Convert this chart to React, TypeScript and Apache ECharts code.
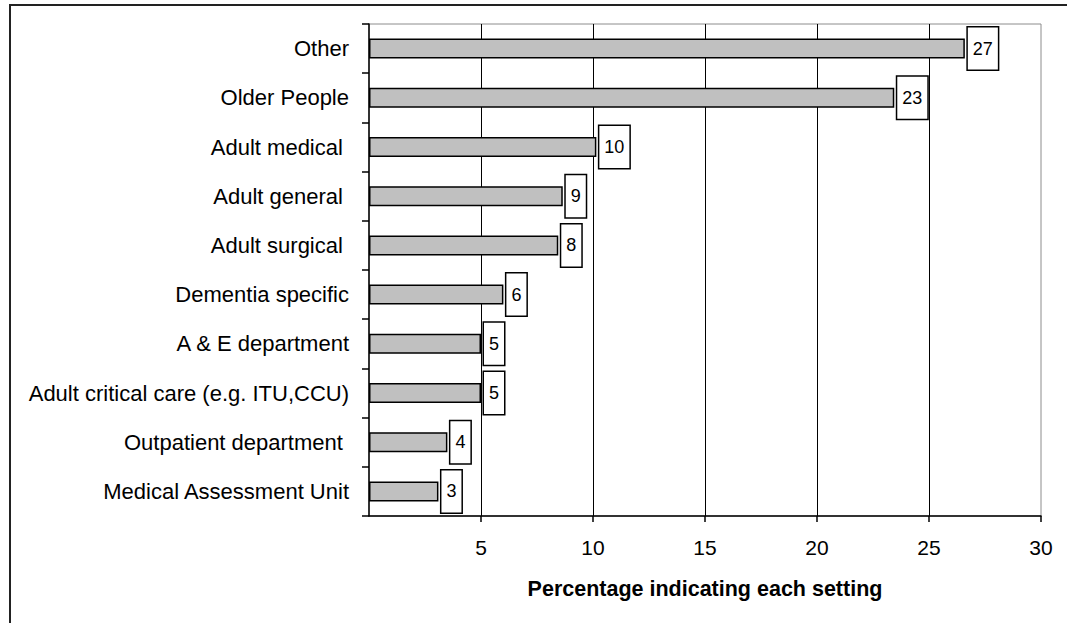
import React, { useEffect, useRef } from "react";
import * as echarts from "echarts";

const categories = [
  "Other",
  "Older People",
  "Adult medical ",
  "Adult general ",
  "Adult surgical ",
  "Dementia specific",
  "A & E department",
  "Adult critical care (e.g. ITU,CCU)",
  "Outpatient department ",
  "Medical Assessment Unit",
];
const values = [26.6, 23.45, 10.15, 8.65, 8.45, 6.0, 5.0, 5.0, 3.5, 3.1];
const xTicks = { min: 0, max: 30, interval: 5 };
const xName = "Percentage indicating each setting";

export default function App() {
  const ref = useRef<HTMLDivElement>(null);
  useEffect(() => {
    if (!ref.current) return;
    const chart = echarts.init(ref.current, null, { renderer: "svg" });
    chart.setOption({
      animation: false,
      backgroundColor: "#ffffff",
      textStyle: { fontFamily: "Liberation Sans, Arial, sans-serif", color: "#000" },
      graphic: [
        {
          type: "rect",
          shape: { x: 10, y: 5, width: 1100, height: 700 },
          style: { fill: "none", stroke: "#222", lineWidth: 2 },
          silent: true,
        },
      ],
      grid: {
        left: 369,
        top: 24,
        right: 26,
        bottom: 107,
        show: true,
        borderColor: "#8c8c8c",
        borderWidth: 1,
        backgroundColor: "transparent",
      },
      xAxis: {
        type: "value",
        min: xTicks.min,
        max: xTicks.max,
        interval: xTicks.interval,
        name: xName,
        nameLocation: "middle",
        nameGap: 62,
        nameTextStyle: { fontSize: 21.5, fontWeight: "bold", color: "#000" },
        axisLine: { show: true, lineStyle: { color: "#000", width: 1.5 } },
        axisTick: { show: true, length: 6, lineStyle: { color: "#000", width: 1.5 } },
        axisLabel: {
          showMinLabel: false,
          fontSize: 21,
          color: "#000",
          margin: 21,
        },
        splitLine: {
          show: true,
          showMinLine: false,
          showMaxLine: false,
          lineStyle: { color: "#000", width: 1 },
        },
      },
      yAxis: {
        type: "category",
        inverse: true,
        data: categories,
        axisLine: { show: true, lineStyle: { color: "#000", width: 1.5 } },
        axisTick: { show: true, length: 7, lineStyle: { color: "#000", width: 1.5 } },
        axisLabel: { fontSize: 22, color: "#000", margin: 20 },
        splitLine: { show: false },
      },
      series: [
        {
          type: "bar",
          data: values,
          barWidth: 20,
          itemStyle: { color: "#c0c0c0", borderColor: "#000", borderWidth: 1.5 },
          label: {
            show: true,
            position: "right",
            distance: 3,
            formatter: (p: any) => String(Math.round(p.value)),
            fontSize: 18,
            color: "#000",
            backgroundColor: "#fff",
            borderColor: "#000",
            borderWidth: 1.5,
            padding: [12, 5],
          },
        },
      ],
    });
    return () => chart.dispose();
  }, []);
  return (
    <div
      ref={ref}
      style={{ position: "absolute", left: 0, top: 0, width: 1067, height: 623 }}
    />
  );
}
